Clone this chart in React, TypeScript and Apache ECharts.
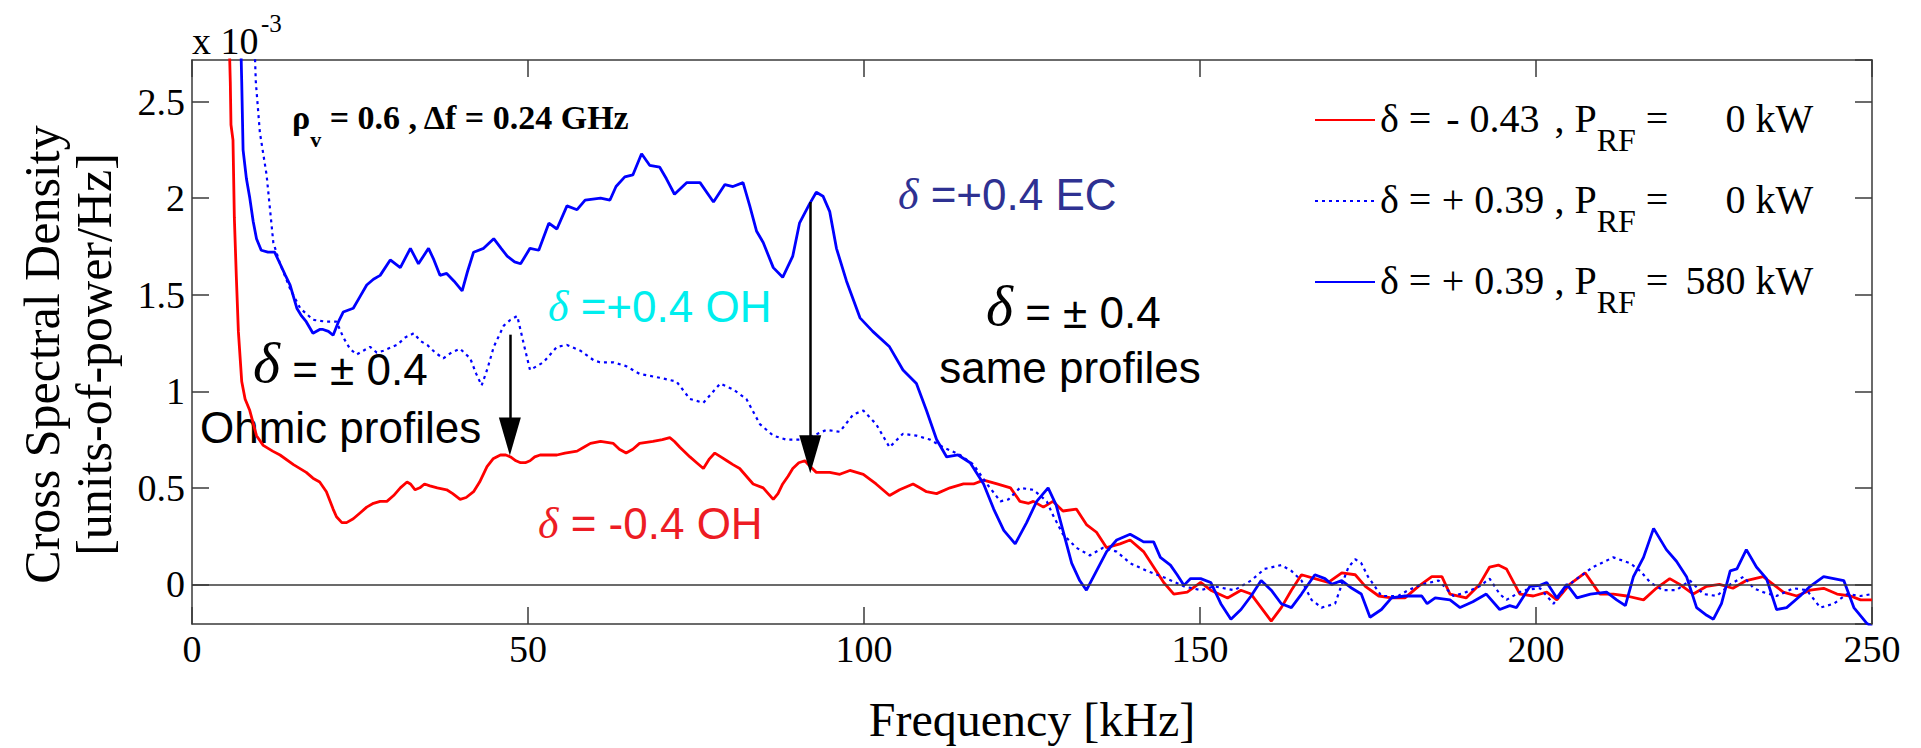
import React, { useEffect, useRef } from 'react';
import * as echarts from 'echarts';

// ---------- data (frequency kHz, CSD x 1e-3) ----------
const X_MIN = 0;
const X_MAX = 250;
const X_INTERVAL = 50;
const Y_MIN = -0.205;
const Y_MAX = 2.715;
const Y_STEP = 0.5;

const seriesNames = [
  'delta=-0.43, PRF=0 kW',
  'delta=+0.39, PRF=0 kW',
  'delta=+0.39, PRF=580 kW',
];

const legendSign = ['- 0.43', '+ 0.39', '+ 0.39'];
const legendPower = ['0 kW', '0 kW', '580 kW'];

const ohmicNeg: [number, number][] = [
  [5.4, 3.0], [5.7, 2.6], [5.8, 2.38], [6.1, 2.3], [6.3, 1.9], [6.6, 1.59], [6.9, 1.31], [7.4, 1.05],
  [7.9, 0.96], [8.6, 0.9], [9.6, 0.77], [10.6, 0.72], [12, 0.69], [13.1, 0.67], [15.1, 0.62], [17.0, 0.58],
  [18, 0.55], [19.0, 0.53], [20.0, 0.48], [21, 0.39], [21.5, 0.35], [22.3, 0.32], [23.0, 0.32], [24, 0.34],
  [25.0, 0.37], [26, 0.4], [27.0, 0.42], [28, 0.43], [29.0, 0.43], [30, 0.46], [31.0, 0.5], [32.0, 0.53],
  [32.5, 0.52], [33.2, 0.49], [33.9, 0.5], [34.6, 0.52], [35.4, 0.51], [36.5, 0.5], [37.9, 0.49], [38.8, 0.47],
  [39.9, 0.44], [40.8, 0.45], [41.9, 0.48], [42.8, 0.53], [43.9, 0.61], [44.8, 0.65], [45.9, 0.67], [46.7, 0.67],
  [47.4, 0.66], [48.2, 0.64], [48.9, 0.63], [49.6, 0.63], [50.3, 0.64], [51.0, 0.66], [51.8, 0.67], [53, 0.67],
  [54.3, 0.67], [55.5, 0.68], [57.3, 0.69], [58.3, 0.71], [59.3, 0.73], [60.8, 0.74], [62.7, 0.73], [63.6, 0.7],
  [64.6, 0.68], [65.6, 0.7], [66.6, 0.73], [68.6, 0.74], [70, 0.75], [71.1, 0.76], [71.8, 0.74], [72.6, 0.71],
  [74.1, 0.66], [75.1, 0.63], [76.1, 0.6], [77.0, 0.65], [77.8, 0.68], [78.7, 0.66], [79.6, 0.64], [80.5, 0.62],
  [81.5, 0.6], [82.5, 0.56], [83.5, 0.52], [85.0, 0.5], [86.5, 0.44], [87.2, 0.47], [87.9, 0.52], [88.7, 0.56],
  [89.4, 0.6], [90.3, 0.63], [91.2, 0.64], [92.0, 0.61], [92.9, 0.58], [94.9, 0.58], [96.4, 0.57], [97.9, 0.59],
  [99.9, 0.57], [101.8, 0.52], [102.8, 0.49], [103.8, 0.46], [105.3, 0.49], [107.3, 0.52], [108.3, 0.5], [109.3, 0.48],
  [110.8, 0.47], [112.8, 0.5], [114.8, 0.52], [116.3, 0.52], [117.8, 0.54], [119.8, 0.52], [121.8, 0.5], [123.2, 0.43],
  [124.5, 0.42], [125.2, 0.43], [126.7, 0.4], [128.1, 0.43], [129.6, 0.38], [131.6, 0.39], [133.1, 0.31], [134.6, 0.27],
  [136.1, 0.19], [138.1, 0.21], [139.6, 0.23], [141.6, 0.17], [143.1, 0.09], [144.6, 0.01], [146.1, -0.05], [148.1, -0.04],
  [150.1, 0.01], [151.6, -0.03], [154.1, -0.07], [156.1, -0.03], [157.6, -0.05], [159.1, -0.12], [160.6, -0.19], [162.1, -0.12],
  [163.6, -0.03], [165.1, 0.05], [167.1, 0.03], [169.1, 0.01], [171.1, 0.06], [173.1, 0.05], [174.6, -0.01], [176.6, -0.06],
  [178.5, -0.07], [180.5, -0.07], [182.5, -0.01], [184.5, 0.04], [186.0, 0.04], [187.2, -0.05], [189.6, -0.07], [191.6, 0.0],
  [193.1, 0.09], [194.4, 0.1], [195.6, 0.08], [197.6, -0.05], [199.6, -0.06], [201.6, -0.04], [203.1, -0.08], [205.0, 0.0],
  [207.3, 0.06], [208.5, 0.0], [209.5, -0.05], [211.5, -0.05], [213.5, -0.06], [216.0, -0.08], [217.9, -0.02], [219.9, 0.03],
  [221.4, 0.0], [223.4, -0.05], [225.4, -0.01], [227.3, 0.0], [229.3, -0.02], [231.3, 0.02], [233.8, 0.04], [235.3, 0.0],
  [236.8, -0.04], [238.8, -0.06], [240.8, -0.03], [242.8, -0.02], [244.8, -0.05], [246.8, -0.06], [248.3, -0.08], [250, -0.08],
];

const ohmicPos: [number, number][] = [
  [9.2, 2.9], [9.5, 2.6], [10.1, 2.34], [11.1, 2.12], [12.1, 1.77], [13.1, 1.66], [14.6, 1.53], [16.1, 1.43],
  [18.0, 1.37], [20.0, 1.36], [21.5, 1.36], [22.5, 1.28], [23.5, 1.22], [24.5, 1.19], [25.5, 1.21], [26.5, 1.23],
  [27.5, 1.2], [28.5, 1.21], [30.5, 1.24], [31.8, 1.28], [33.0, 1.3], [34.0, 1.26], [35.0, 1.24], [36.2, 1.2],
  [37.4, 1.17], [38.6, 1.2], [39.9, 1.22], [41.4, 1.17], [42.3, 1.09], [43.1, 1.03], [44.0, 1.12], [44.9, 1.23],
  [46.4, 1.34], [47.4, 1.37], [48.4, 1.39], [49.4, 1.24], [50.3, 1.11], [51.3, 1.13], [52.3, 1.15], [54.3, 1.23],
  [55.8, 1.24], [57.8, 1.21], [59.8, 1.16], [60.7, 1.15], [62.7, 1.15], [64.6, 1.13], [66.6, 1.09], [69.6, 1.07],
  [72.1, 1.05], [74.1, 0.96], [76.1, 0.94], [78.6, 1.04], [80.5, 1.01], [82.5, 0.96], [84.5, 0.83], [86.5, 0.77],
  [88.4, 0.75], [90.4, 0.75], [92.4, 0.77], [94.4, 0.8], [96.4, 0.79], [98.4, 0.88], [99.9, 0.9], [101.8, 0.83],
  [103.8, 0.71], [105.8, 0.78], [107.8, 0.77], [109.8, 0.75], [111.8, 0.71], [114.3, 0.67], [116.3, 0.62], [118.3, 0.52],
  [120.3, 0.43], [121.5, 0.44], [123.2, 0.5], [125.2, 0.49], [127.2, 0.43], [128.1, 0.36], [129.6, 0.26], [131.6, 0.19],
  [133.6, 0.15], [135.6, 0.19], [137.6, 0.17], [139.6, 0.11], [142.1, 0.07], [145.1, 0.03], [147.6, -0.01], [150.1, -0.03],
  [152.1, -0.01], [155.1, -0.03], [157.6, 0.02], [159.6, 0.08], [162.1, 0.1], [163.6, 0.07], [165.1, 0.02], [166.6, -0.08],
  [168.1, -0.12], [170.1, -0.1], [171.1, 0.0], [172.1, 0.09], [173.1, 0.13], [174.0, 0.11], [175.0, 0.04], [177.0, -0.06],
  [179.5, -0.06], [181.0, -0.03], [183.0, 0.0], [185.5, 0.02], [187.7, -0.06], [189.6, -0.04], [191.6, -0.01], [193.1, 0.03],
  [194.6, -0.05], [195.6, -0.08], [198.1, -0.03], [200.6, -0.02], [202.6, -0.1], [204.6, -0.01], [206.5, 0.04], [208.5, 0.09],
  [211.5, 0.14], [214.0, 0.11], [215.5, 0.07], [217.0, 0.01], [218.9, -0.03], [220.9, -0.03], [222.9, 0.02], [224.9, -0.05],
  [226.9, -0.06], [228.9, 0.0], [230.9, 0.04], [232.4, -0.02], [233.8, -0.04], [235.8, -0.06], [238.3, -0.02], [240.3, -0.03],
  [242.3, -0.12], [244.3, -0.1], [246.3, -0.05], [248.3, -0.06], [250, -0.05],
];

const ecPos: [number, number][] = [
  [7.2, 2.9], [7.4, 2.6], [7.6, 2.25], [8.1, 2.1], [8.6, 2.0], [9.1, 1.88], [9.6, 1.79], [10.3, 1.73],
  [11.3, 1.72], [12.3, 1.72], [13.1, 1.66], [13.9, 1.6], [14.6, 1.55], [15.6, 1.43], [16.3, 1.39], [17.0, 1.36],
  [18.0, 1.3], [19.0, 1.32], [19.5, 1.32], [20.3, 1.31], [21.0, 1.29], [21.8, 1.36], [22.5, 1.41], [24.0, 1.43],
  [25.0, 1.49], [26.0, 1.55], [27.0, 1.58], [28.0, 1.6], [29.5, 1.68], [31.0, 1.64], [32.5, 1.74], [33.7, 1.66],
  [35.2, 1.74], [36.0, 1.68], [36.9, 1.6], [37.9, 1.61], [39.0, 1.57], [40.2, 1.52], [41.0, 1.62], [41.9, 1.72],
  [43.4, 1.74], [44.9, 1.79], [46.0, 1.74], [46.9, 1.7], [48.0, 1.67], [48.9, 1.66], [50.3, 1.74], [51.6, 1.73],
  [53.1, 1.87], [54.3, 1.84], [55.8, 1.96], [57.3, 1.94], [58.5, 1.99], [60.8, 2.0], [62.2, 1.99], [63.1, 2.06],
  [64.4, 2.11], [65.6, 2.12], [66.9, 2.23], [68.1, 2.17], [69.6, 2.16], [70.6, 2.1], [71.8, 2.02], [73.6, 2.08],
  [75.6, 2.08], [77.6, 1.98], [79.3, 2.07], [80.5, 2.06], [82.0, 2.08], [83.0, 1.96], [84.0, 1.83], [85.0, 1.77],
  [86.5, 1.64], [87.9, 1.59], [89.4, 1.7], [90.4, 1.87], [91.9, 1.97], [92.9, 2.03], [93.9, 2.01], [94.9, 1.93],
  [95.9, 1.74], [97.4, 1.57], [99.4, 1.38], [101.3, 1.31], [103.8, 1.23], [105.8, 1.11], [107.8, 1.04], [109.3, 0.9],
  [110.8, 0.75], [112.3, 0.66], [114.0, 0.67], [115.8, 0.63], [117.8, 0.52], [119.3, 0.39], [120.8, 0.28], [122.5, 0.21],
  [124.2, 0.32], [125.7, 0.43], [127.4, 0.5], [128.6, 0.41], [129.6, 0.28], [130.9, 0.11], [132.1, 0.02], [133.1, -0.03],
  [134.6, 0.07], [136.1, 0.17], [137.6, 0.23], [139.6, 0.26], [140.6, 0.24], [141.6, 0.22], [143.1, 0.22], [144.1, 0.14],
  [145.6, 0.1], [146.6, 0.05], [147.6, -0.005], [148.6, 0.03], [150.1, 0.03], [151.6, 0.01], [153.1, -0.1], [154.6, -0.18],
  [156.1, -0.13], [157.6, -0.06], [159.1, 0.02], [160.6, -0.03], [162.1, -0.1], [163.6, -0.12], [165.1, -0.05], [167.1, 0.05],
  [168.6, 0.03], [169.6, 0.0], [171.1, 0.02], [172.6, -0.02], [174.0, -0.05], [175.3, -0.17], [177.0, -0.13], [178.5, -0.07],
  [180.5, -0.06], [183.0, -0.06], [183.8, -0.1], [185.0, -0.07], [187.2, -0.08], [188.7, -0.12], [190.6, -0.09], [192.6, -0.05],
  [194.6, -0.13], [196.1, -0.11], [197.1, -0.12], [199.1, -0.01], [200.6, -0.005], [201.6, 0.01], [203.1, -0.07], [204.6, 0.0],
  [206.1, -0.07], [208.1, -0.05], [210.5, -0.04], [212.0, -0.08], [213.3, -0.11], [214.5, 0.04], [216.0, 0.14], [217.5, 0.29],
  [219.4, 0.18], [220.9, 0.12], [222.4, 0.04], [223.9, -0.12], [225.4, -0.16], [226.4, -0.18], [227.6, -0.1], [228.9, 0.07],
  [229.9, 0.08], [231.3, 0.18], [232.8, 0.09], [234.3, 0.03], [235.8, -0.13], [237.3, -0.12], [239.3, -0.06], [240.8, -0.01],
  [242.8, 0.04], [244.3, 0.03], [245.8, 0.02], [247.3, -0.12], [249.2, -0.2], [250, -0.22],
];

// annotation arrows: [x, yStart, yArrowHeadCenter]
const arrows: [number, number, number][] = [
  [47.3, 1.293, 0.766],
  [92.0, 1.98, 0.674],
];

// ---------- styles ----------
const SERIF = 'Liberation Serif';
const SANS = 'Liberation Sans';
const AXIS_COLOR = '#3a3a3a';
const RED = '#ff0000';
const BLUE = '#0000ff';

const legendRich = {
  t: { fontFamily: SERIF, fontSize: 40, lineHeight: 44, verticalAlign: 'top', color: '#000' },
  n: { fontFamily: SERIF, fontSize: 40, lineHeight: 44, verticalAlign: 'top', color: '#000', width: 103, align: 'right' },
  s: { fontFamily: SERIF, fontSize: 32, lineHeight: 32, padding: [26, 0, 0, 0], verticalAlign: 'top', color: '#000' },
  v: { fontFamily: SERIF, fontSize: 40, lineHeight: 44, verticalAlign: 'top', color: '#000', width: 135, align: 'right' },
};

function legendLabel(name: string): string {
  const i = seriesNames.indexOf(name);
  return `{t|δ = }{n|${legendSign[i]}}{t| , P}{s|RF}{t| = }{v|${legendPower[i]}}`;
}

function deltaText(x: number, y: number, rest: string, color: string, dSize: number, tSize: number) {
  return {
    type: 'text',
    x,
    y,
    style: {
      text: `{d|δ}{t|${rest}}`,
      verticalAlign: 'middle',
      align: 'left',
      rich: {
        d: { fontFamily: SERIF, fontStyle: 'italic', fontSize: dSize, fill: color, verticalAlign: 'bottom' },
        t: { fontFamily: SANS, fontSize: tSize, fill: color, verticalAlign: 'bottom' },
      },
    },
  };
}

function plainText(x: number, y: number, text: string, align: string, font: string, size: number, weight = 'normal') {
  return {
    type: 'text',
    x,
    y,
    style: { text, fontFamily: font, fontSize: size, fontWeight: weight, fill: '#000', align, verticalAlign: 'middle' },
  };
}

function buildOption() {
  const xAxisBase = {
    type: 'value',
    min: X_MIN,
    max: X_MAX,
    interval: X_INTERVAL,
    splitLine: { show: false },
    axisLine: { show: true, onZero: false, lineStyle: { color: AXIS_COLOR, width: 1.5 } },
    axisTick: { show: true, inside: true, length: 17, lineStyle: { color: AXIS_COLOR, width: 1.5 } },
  };
  const yAxisBase = {
    type: 'value',
    min: Y_MIN,
    max: Y_MAX,
    minInterval: Y_STEP,
    maxInterval: Y_STEP,
    splitNumber: 6,
    splitLine: { show: false },
    axisLine: { show: true, onZero: false, lineStyle: { color: AXIS_COLOR, width: 1.5 } },
    axisTick: { show: true, inside: true, length: 17, lineStyle: { color: AXIS_COLOR, width: 1.5 } },
  };
  const yLabel = (v: number) => {
    const k = v / Y_STEP;
    if (Math.abs(k - Math.round(k)) > 1e-6) return '';
    return String(Number(v.toFixed(1)));
  };

  return {
    animation: false,
    backgroundColor: '#ffffff',
    textStyle: { fontFamily: SERIF },
    grid: { left: 192, right: 49, top: 60, bottom: 117, containLabel: false },
    xAxis: [
      {
        ...xAxisBase,
        position: 'bottom',
        axisLabel: { show: true, fontFamily: SERIF, fontSize: 38, color: '#000', margin: 6 },
        name: 'Frequency [kHz]',
        nameLocation: 'middle',
        nameGap: 71,
        nameTextStyle: { fontFamily: SERIF, fontSize: 48, color: '#000', lineHeight: 48 },
      },
      { ...xAxisBase, position: 'top', axisLabel: { show: false } },
    ],
    yAxis: [
      {
        ...yAxisBase,
        position: 'left',
        axisLabel: {
          show: true,
          fontFamily: SERIF,
          fontSize: 38,
          color: '#000',
          margin: 7,
          showMinLabel: false,
          showMaxLabel: false,
          formatter: yLabel,
        },
        name: 'Cross Spectral Density\n[units-of-power/Hz]',
        nameLocation: 'middle',
        nameRotate: 90,
        nameGap: 72,
        nameTextStyle: { fontFamily: SERIF, fontSize: 50, lineHeight: 52, color: '#000', padding: [0, 25, 0, 0] },
      },
      { ...yAxisBase, position: 'right', axisLabel: { show: false } },
    ],
    legend: {
      orient: 'vertical',
      left: 1314,
      top: 98,
      padding: 0,
      itemGap: 23,
      itemWidth: 60,
      itemHeight: 4,
      selectedMode: false,
      itemStyle: { opacity: 0 },
      data: seriesNames,
      formatter: legendLabel,
      textStyle: { rich: legendRich },
    },
    series: [
      {
        name: seriesNames[0],
        type: 'line',
        data: ohmicNeg,
        symbol: 'none',
        showSymbol: false,
        clip: true,
        lineStyle: { color: RED, width: 2.8 },
        itemStyle: { color: RED },
        markLine: {
          silent: true,
          symbol: 'none',
          label: { show: false },
          lineStyle: { color: AXIS_COLOR, width: 1.5, type: 'solid' },
          data: [{ yAxis: 0 }],
        },
      },
      {
        name: seriesNames[1],
        type: 'line',
        data: ohmicPos,
        symbol: 'none',
        showSymbol: false,
        clip: true,
        lineStyle: { color: BLUE, width: 2.2, type: [3, 4] },
        itemStyle: { color: BLUE },
        markPoint: {
          silent: true,
          label: { show: false },
          itemStyle: { color: '#000' },
          data: arrows.map(([x, , y1]) => ({
            coord: [x, y1],
            symbol: 'triangle',
            symbolSize: [22, 38],
            symbolRotate: 180,
            itemStyle: { color: '#000' },
          })),
        },
      },
      {
        name: seriesNames[2],
        type: 'line',
        data: ecPos,
        symbol: 'none',
        showSymbol: false,
        clip: true,
        lineStyle: { color: BLUE, width: 2.8 },
        itemStyle: { color: BLUE },
        markLine: {
          silent: true,
          symbol: 'none',
          label: { show: false },
          lineStyle: { color: '#000', width: 2.5, type: 'solid' },
          data: arrows.map(([x, y0, y1]) => [{ coord: [x, y0] }, { coord: [x, y1] }]),
        },
      },
    ],
    graphic: [
      plainText(192, 41, 'x 10', 'left', SERIF, 38),
      plainText(261, 23, '-3', 'left', SERIF, 25),
      {
        type: 'text',
        x: 292,
        y: 100,
        style: {
          text: '{r|ρ}{v|v}{b| = 0.6 , Δf = 0.24 GHz}',
          align: 'left',
          verticalAlign: 'top',
          rich: {
            r: { fontFamily: SERIF, fontWeight: 'bold', fontSize: 34, lineHeight: 36, verticalAlign: 'top', fill: '#000' },
            v: { fontFamily: SERIF, fontWeight: 'bold', fontSize: 22, lineHeight: 22, padding: [28, 0, 0, 0], verticalAlign: 'top', fill: '#000' },
            b: { fontFamily: SERIF, fontWeight: 'bold', fontSize: 34, lineHeight: 36, verticalAlign: 'top', fill: '#000' },
          },
        },
      },
      deltaText(548, 306, ' =+0.4 OH', '#00eeee', 44, 44),
      deltaText(898, 194, ' =+0.4 EC', '#2e3192', 44, 44),
      deltaText(538, 523, ' = -0.4 OH', '#ed1c24', 44, 44),
      deltaText(986, 305, ' = ± 0.4', '#000', 58, 44),
      plainText(1070, 367, 'same profiles', 'center', SANS, 44),
      deltaText(253, 362, ' = ± 0.4', '#000', 58, 44),
      plainText(200, 427, 'Ohmic profiles', 'left', SANS, 44),
    ],
  };
}

export default function App() {
  const ref = useRef<HTMLDivElement>(null);
  useEffect(() => {
    document.body.style.margin = '0';
    const chart = echarts.init(ref.current as HTMLDivElement, undefined, { renderer: 'svg' });
    chart.setOption(buildOption() as any);
    return () => chart.dispose();
  }, []);
  return <div ref={ref} style={{ width: 1921, height: 748 }} />;
}
